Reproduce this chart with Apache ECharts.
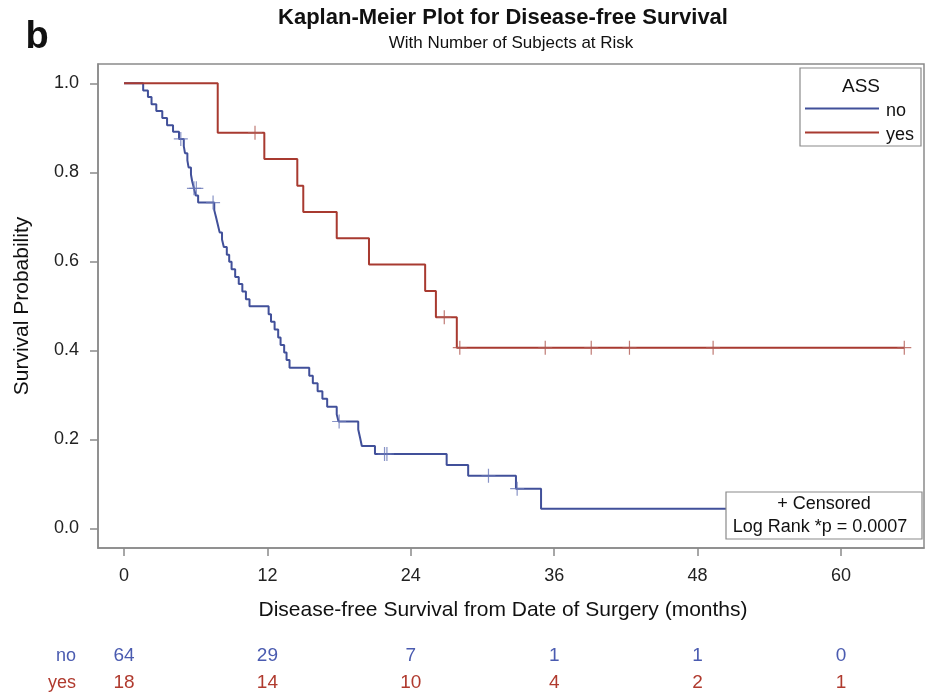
<!DOCTYPE html>
<html>
<head>
<meta charset="utf-8">
<script src="https://cdn.jsdelivr.net/npm/echarts@6/dist/echarts.min.js"></script>
<style>html,body{margin:0;padding:0;background:#fff}#c{width:938px;height:698px}</style>
</head>
<body>
<div id="c"></div>
<script>
// ---- data ----
const xTicks = [0, 12, 24, 36, 48, 60];
const yTicks = [0, 0.2, 0.4, 0.6, 0.8, 1.0];
const groups = ['no', 'yes'];

// step points: time (months) at which survival changes, and survival after the change
const noTimes = [0, 1.6, 2.0, 2.3, 2.7, 3.2, 3.6, 4.1, 4.6, 5.0, 5.1, 5.3, 5.4, 5.6, 5.7, 5.85, 6.0, 6.2,
  7.55, 7.7, 7.85, 8.0, 8.2, 8.35, 8.6, 8.8, 9.0, 9.3, 9.6, 9.9, 10.2, 10.5,
  12.1, 12.3, 12.6, 12.9, 13.1, 13.4, 13.6, 13.85,
  15.5, 15.8, 16.2, 16.6, 17.0, 17.8, 17.95, 19.6, 19.75, 19.9, 21.0, 27.0, 28.8, 32.8, 34.9, 52.0];
const noSurv = [1, 0.984, 0.969, 0.953, 0.938, 0.922, 0.906, 0.891, 0.875, 0.859, 0.843, 0.827, 0.811, 0.795, 0.780, 0.764, 0.748, 0.732,
  0.715, 0.699, 0.682, 0.665, 0.649, 0.632, 0.615, 0.599, 0.582, 0.565, 0.549, 0.532, 0.515, 0.499,
  0.481, 0.464, 0.447, 0.429, 0.412, 0.395, 0.378, 0.361,
  0.343, 0.326, 0.308, 0.291, 0.273, 0.256, 0.240, 0.222, 0.204, 0.185, 0.167, 0.142, 0.118, 0.089, 0.044, 0.044];
const noCensorT = [4.75, 5.85, 6.05, 7.45, 18.0, 21.8, 22.0, 30.5, 32.9, 52.0];
const noCensorS = [0.875, 0.764, 0.764, 0.732, 0.240, 0.167, 0.167, 0.118, 0.089, 0.044];

const yesTimes = [0, 7.84, 11.74, 14.5, 15.0, 17.8, 20.5, 25.2, 26.1, 27.85, 65.3];
const yesSurv = [1, 0.889, 0.830, 0.770, 0.711, 0.652, 0.593, 0.533, 0.474, 0.406, 0.406];
const yesCensorT = [10.96, 26.8, 28.1, 35.25, 39.1, 42.3, 49.3, 65.3];
const yesCensorS = [0.889, 0.474, 0.406, 0.406, 0.406, 0.406, 0.406, 0.406];

const noAtRisk = [64, 29, 7, 1, 1, 0];
const yesAtRisk = [18, 14, 10, 4, 2, 1];

// ---- styles ----
const BLUE = '#41509a';
const RED = '#a83a30';
const FONT = 'Liberation Sans, Arial, sans-serif';
const grid = {left: 98, top: 64, width: 826, height: 484};
const xMin = -2.18, xMax = 66.95, yMin = -0.0443, yMax = 1.0434;

const zip = (a, b) => a.map((v, i) => [v, b[i]]);
const plus = 'path://M5,0L5,10M0,5L10,5';

const chart = echarts.init(document.getElementById('c'), null, {renderer: 'canvas'});

const series = [
  {name: 'no', type: 'line', step: 'end', data: zip(noTimes, noSurv), symbol: 'none',
   lineStyle: {color: BLUE, width: 2}, z: 2, animation: false},
  {name: 'yes', type: 'line', step: 'end', data: zip(yesTimes, yesSurv), symbol: 'none',
   lineStyle: {color: RED, width: 2}, z: 3, animation: false},
  {type: 'scatter', data: zip(noCensorT, noCensorS), symbol: plus, symbolSize: 14,
   itemStyle: {color: 'rgba(0,0,0,0)', borderColor: '#6a78b8', borderWidth: 1.2}, z: 4, animation: false},
  {type: 'scatter', data: zip(yesCensorT, yesCensorS), symbol: plus, symbolSize: 14,
   itemStyle: {color: 'rgba(0,0,0,0)', borderColor: '#b05a52', borderWidth: 1.2}, z: 4, animation: false}
];

const riskRows = [
  {name: groups[0], vals: noAtRisk, color: '#4a5bb0', y: 656},
  {name: groups[1], vals: yesAtRisk, color: '#b03a2e', y: 683}
];

chart.setOption({
  animation: false,
  grid: Object.assign({show: true, borderColor: '#8a8a8a', borderWidth: 1.5, backgroundColor: '#fff'}, grid),
  xAxis: {
    type: 'value', min: xMin, max: xMax,
    axisLine: {show: true, onZero: false, lineStyle: {color: '#8a8a8a', width: 1.5}},
    axisTick: {show: true, length: 8, inside: false, customValues: xTicks, lineStyle: {color: '#8a8a8a', width: 1.5}},
    axisLabel: {customValues: xTicks, margin: 19, fontSize: 18, color: '#222', fontFamily: FONT},
    splitLine: {show: false}
  },
  yAxis: {
    type: 'value', min: yMin, max: yMax,
    axisLine: {show: true, onZero: false, lineStyle: {color: '#8a8a8a', width: 1.5}},
    axisTick: {show: true, length: 8, inside: false, customValues: yTicks, lineStyle: {color: '#8a8a8a', width: 1.5}},
    axisLabel: {customValues: yTicks, margin: 19, fontSize: 18, color: '#222', fontFamily: FONT,
      formatter: v => v.toFixed(1)},
    splitLine: {show: false}
  },
  series: series,
  graphic: []
});

const gfx = [];
gfx.push({type: 'text', x: 37, y: 38, style: {text: 'b', font: 'bold 38px ' + FONT, fill: '#111', align: 'center', verticalAlign: 'middle'}});
gfx.push({type: 'text', x: 503, y: 18, style: {text: 'Kaplan-Meier Plot for Disease-free Survival', font: 'bold 22px ' + FONT, fill: '#111', align: 'center', verticalAlign: 'middle'}});
gfx.push({type: 'text', x: 511, y: 43, style: {text: 'With Number of Subjects at Risk', font: '17px ' + FONT, fill: '#111', align: 'center', verticalAlign: 'middle'}});
gfx.push({type: 'text', x: 22, y: 306, rotation: Math.PI / 2, style: {text: 'Survival Probability', font: '21px ' + FONT, fill: '#111', align: 'center', verticalAlign: 'middle'}});
gfx.push({type: 'text', x: 503, y: 610, style: {text: 'Disease-free Survival from Date of Surgery (months)', font: '21px ' + FONT, fill: '#111', align: 'center', verticalAlign: 'middle'}});

// legend box
gfx.push({type: 'rect', shape: {x: 800, y: 68, width: 121, height: 78}, style: {fill: '#fff', stroke: '#8a8a8a', lineWidth: 1.2}, z: 10});
gfx.push({type: 'text', x: 861, y: 87, style: {text: 'ASS', font: '19px ' + FONT, fill: '#111', align: 'center', verticalAlign: 'middle'}, z: 11});
gfx.push({type: 'line', shape: {x1: 805, y1: 108.5, x2: 879, y2: 108.5}, style: {stroke: BLUE, lineWidth: 2}, z: 11});
gfx.push({type: 'line', shape: {x1: 805, y1: 132.5, x2: 879, y2: 132.5}, style: {stroke: RED, lineWidth: 2}, z: 11});
gfx.push({type: 'text', x: 886, y: 111, style: {text: groups[0], font: '18px ' + FONT, fill: '#111', align: 'left', verticalAlign: 'middle'}, z: 11});
gfx.push({type: 'text', x: 886, y: 135, style: {text: groups[1], font: '18px ' + FONT, fill: '#111', align: 'left', verticalAlign: 'middle'}, z: 11});

// censored / log-rank inset
gfx.push({type: 'rect', shape: {x: 726, y: 492, width: 196, height: 47}, style: {fill: '#fff', stroke: '#8a8a8a', lineWidth: 1.2}, z: 10});
gfx.push({type: 'text', x: 824, y: 504, style: {text: '+ Censored', font: '18px ' + FONT, fill: '#111', align: 'center', verticalAlign: 'middle'}, z: 11});
gfx.push({type: 'text', x: 820, y: 527, style: {text: 'Log Rank *p = 0.0007', font: '18px ' + FONT, fill: '#111', align: 'center', verticalAlign: 'middle'}, z: 11});

// risk table
riskRows.forEach(r => {
  gfx.push({type: 'text', x: 76, y: r.y, style: {text: r.name, font: '18px ' + FONT, fill: r.color, align: 'right', verticalAlign: 'middle'}});
  xTicks.forEach((t, i) => {
    const px = chart.convertToPixel({gridIndex: 0}, [t, 0])[0];
    gfx.push({type: 'text', x: px, y: r.y, style: {text: String(r.vals[i]), font: '19px ' + FONT, fill: r.color, align: 'center', verticalAlign: 'middle'}});
  });
});

chart.setOption({graphic: gfx});
</script>
</body>
</html>
